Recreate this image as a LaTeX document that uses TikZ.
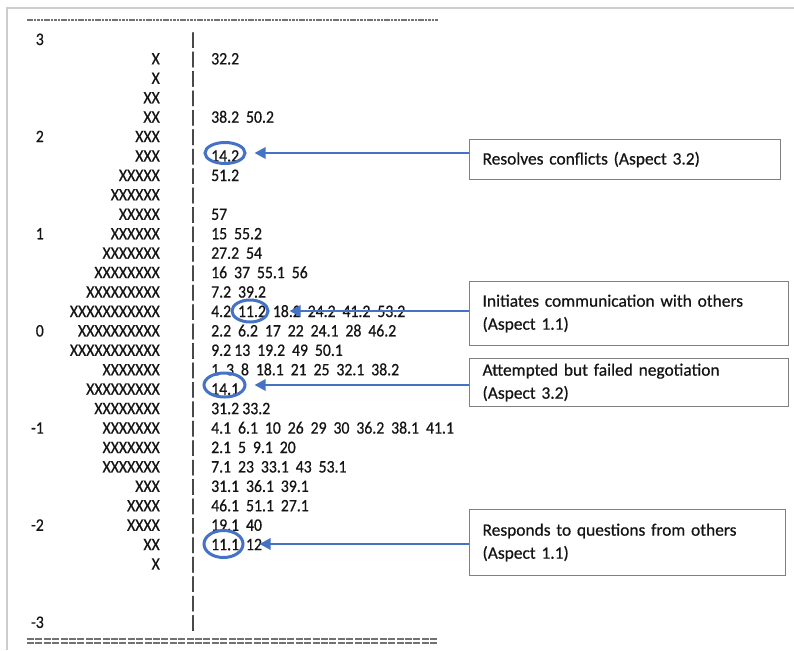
\documentclass[tikz,border=0pt]{standalone}
\usepackage{fontspec}
\setmainfont{Carlito}
\newfontfamily\colfont[FakeStretch=0.9,FakeBold=0.6]{Carlito}
\newfontfamily\notefont[FakeBold=0.6]{Carlito}
\usetikzlibrary{arrows.meta,calc,shapes.geometric}

\definecolor{accent}{RGB}{68,114,196}
\definecolor{framegray}{RGB}{205,205,208}
\definecolor{boxgray}{RGB}{128,128,128}
\definecolor{ink}{RGB}{20,20,20}

% font set-up for the map columns (wide word gaps)
\newcommand{\colsetup}{\colfont\fontsize{17.5}{21}\selectfont\spaceskip 6.9pt\relax}
\newcommand{\notesetup}{\notefont\fontsize{17.4}{23}\selectfont}
% narrow gap inside an item list
\newcommand{\tightgap}{\kern3.2pt\relax}

\tikzset{
  rowtxt/.style={inner sep=0pt, text=ink, font=\colsetup},
  ring/.style={ellipse, draw=accent, line width=3pt, inner sep=0pt},
  note/.style={draw=boxgray, line width=1.1pt, anchor=north west, align=left,
               inner xsep=13pt, inner ysep=0pt, text=ink, font=\notesetup},
  pointer/.style={draw=accent, line width=2.8pt,
                  -{Triangle[length=11pt,width=11pt]}},
}

\begin{document}
\begin{tikzpicture}[x=1pt, y=-1pt]
\useasboundingbox (0,0) rectangle (794,650);

% page frame
\draw[framegray, line width=1.5pt] (7,650) -- (7,8) -- (794,8);

% header and footer rules
\draw[ink!60, line width=1.4pt, dash pattern=on 2.6pt off 0.8pt] (27,20) -- (438,20);
\draw[ink!60, line width=1.3pt, dash pattern=on 7pt off 1.4pt] (27,639) -- (437,639);
\draw[ink!60, line width=1.3pt, dash pattern=on 7pt off 1.4pt] (27,643) -- (437,643);

% item map: logit / persons / items
\foreach \lab/\xs/\vals [count=\i from 0] in {
  3//,
  /X/32.2,
  /X/,
  /XX/,
  /XX/38.2 50.2,
  2/XXX/,
  /XXX/14.2,
  /XXXXX/51.2,
  /XXXXXX/,
  /XXXXX/57,
  1/XXXXXX/15 55.2,
  /XXXXXXX/27.2 54,
  /XXXXXXXX/16 37 55.1 56,
  /XXXXXXXXX/7.2 39.2,
  /XXXXXXXXXXX/4.2 11.2 18.2 24.2 41.2 53.2,
  0/XXXXXXXXXX/2.2 6.2 17 22 24.1 28 46.2,
  /XXXXXXXXXXX/{9.2\tightgap 13 19.2 49 50.1},
  /XXXXXXX/1 3 8 18.1 21 25 32.1 38.2,
  /XXXXXXXXX/14.1,
  /XXXXXXXX/{31.2\tightgap 33.2},
  -1/XXXXXXX/4.1 6.1 10 26 29 30 36.2 38.1 41.1,
  /XXXXXXX/2.1 5 9.1 20,
  /XXXXXXX/7.1 23 33.1 43 53.1,
  /XXX/31.1 36.1 39.1,
  /XXXX/46.1 51.1 27.1,
  -2/XXXX/19.1 40,
  /XX/11.1 12,
  /X/,
  //,
  //,
  -3//%
}{
  \pgfmathsetmacro\yb{45+\i*19.43}
  \node[rowtxt, anchor=base east] (lab\i) at (44,\yb) {\lab};
  \node[rowtxt, anchor=base east] (xs\i)  at (160,\yb) {\xs};
  \node[rowtxt, anchor=base]      (bar\i) at (193,\yb) {|};
  \node[rowtxt, anchor=base west] (val\i) at (211,\yb) {\vals};
}

% highlighted items
\node[ring, minimum width=40pt, minimum height=21pt] (e1) at (225,153) {};
\node[ring, minimum width=36pt, minimum height=22pt] (e2) at (250,311) {};
\node[ring, minimum width=41pt, minimum height=24pt] (e3) at (224.5,385) {};
\node[ring, minimum width=39pt, minimum height=27pt] (e4) at (223.5,544) {};

% annotation boxes
\node[note, text width=285pt, minimum height=40pt] (b1) at (469,139)
  {Resolves conflicts (Aspect 3.2)};
\node[note, text width=293pt, minimum height=64pt] (b2) at (469,281)
  {Initiates communication with others\\(Aspect 1.1)};
\node[note, text width=293pt, minimum height=48pt] (b3) at (469,358)
  {Attempted but failed negotiation\\(Aspect 3.2)};
\node[note, text width=290pt, minimum height=66pt] (b4) at (469,509)
  {Responds to questions from others\\(Aspect 1.1)};

% arrows from the boxes to the items
\draw[pointer] (e1.east -| b1.west) -- ([xshift=8pt]e1.east);
\draw[pointer] (e2.east -| b2.west) -- ([xshift=20pt]e2.east);
\draw[pointer] (e3.east -| b3.west) -- ([xshift=8pt]e3.east);
\draw[pointer] (e4.east -| b4.west) -- ([xshift=15pt]e4.east);
\end{tikzpicture}
\end{document}
